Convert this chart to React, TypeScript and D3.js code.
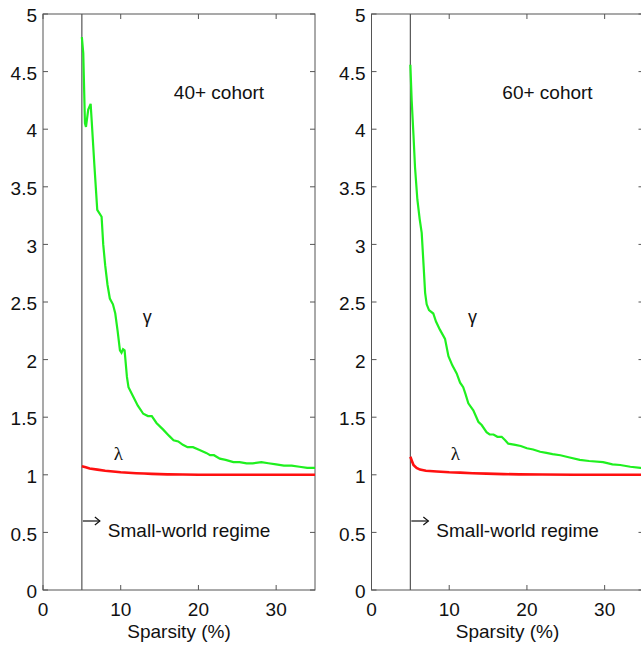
import * as d3 from 'd3';

// axis ticks
const xTicks = [0, 10, 20, 30];
const yTicks = [0, 0.5, 1, 1.5, 2, 2.5, 3, 3.5, 4, 4.5, 5];
const threshold = 5;

// 40+ cohort, [sparsity %, value]
const gamma40: [number, number][] = [
  [5.0, 4.8], [5.18, 4.66], [5.4, 4.05], [5.53, 4.02], [5.82, 4.17], [6.13, 4.22], [6.26, 4.08],
  [6.6, 3.7], [6.98, 3.3], [7.54, 3.24], [7.75, 3.0], [8.0, 2.82], [8.3, 2.65], [8.6, 2.53],
  [9.0, 2.48], [9.3, 2.4], [9.6, 2.25], [9.9, 2.08], [10.1, 2.06], [10.3, 2.09], [10.5, 2.08],
  [10.8, 1.85], [11.0, 1.76], [11.6, 1.68], [12.2, 1.6], [12.9, 1.53], [13.5, 1.51], [14.0, 1.51],
  [14.6, 1.45], [15.5, 1.39], [16.2, 1.34], [16.8, 1.3], [17.4, 1.29], [18.0, 1.26], [18.6, 1.24],
  [19.3, 1.24], [20.0, 1.22], [21.0, 1.19], [21.5, 1.17], [22.0, 1.17], [22.75, 1.14], [23.5, 1.13],
  [24.5, 1.11], [25.3, 1.11], [26.2, 1.1], [27.0, 1.1], [28.1, 1.11], [29.0, 1.1], [30.0, 1.09],
  [31.0, 1.08], [32.0, 1.08], [33.0, 1.07], [34.0, 1.06], [35.0, 1.06],
];
const lambda40: [number, number][] = [
  [5.0, 1.075], [5.5, 1.065], [6, 1.055], [7, 1.045], [8, 1.035], [9, 1.028], [10, 1.022],
  [11, 1.018], [12, 1.014], [13, 1.011], [14, 1.008], [15, 1.006], [16, 1.004], [18, 1.002],
  [20, 1.001], [25, 1.0], [30, 1.0], [35, 1.0],
];

// 60+ cohort
const gamma60: [number, number][] = [
  [5.0, 4.56], [5.17, 4.25], [5.4, 3.95], [5.6, 3.67], [5.9, 3.39], [6.2, 3.22], [6.46, 3.1],
  [6.7, 2.82], [6.9, 2.58], [7.1, 2.48], [7.4, 2.43], [7.95, 2.4], [8.3, 2.33], [8.8, 2.26],
  [9.46, 2.18], [9.9, 2.03], [10.4, 1.95], [10.96, 1.88], [11.4, 1.8], [11.8, 1.76], [12.1, 1.7],
  [12.46, 1.62], [13.1, 1.56], [13.75, 1.46], [14.2, 1.43], [14.8, 1.37], [15.2, 1.35], [15.7, 1.35],
  [16.2, 1.33], [16.75, 1.33], [17.2, 1.3], [17.6, 1.27], [18.5, 1.26], [19.2, 1.25], [20.0, 1.23],
  [20.8, 1.22], [21.7, 1.2], [22.5, 1.19], [23.3, 1.18], [24.3, 1.17], [25.5, 1.15], [26.8, 1.13],
  [28.0, 1.12], [29.8, 1.11], [31.0, 1.09], [32.0, 1.085], [33.3, 1.07], [34.6, 1.06], [35.0, 1.055],
];
const lambda60: [number, number][] = [
  [5.0, 1.157], [5.2, 1.12], [5.4, 1.085], [5.8, 1.06], [6.24, 1.045], [7, 1.035], [8.4, 1.028],
  [10, 1.022], [11.4, 1.019], [13, 1.014], [14.8, 1.01], [17, 1.006], [19, 1.004], [22, 1.002],
  [26, 1.001], [30, 1.0], [35, 1.0],
];

const FONT = '"Liberation Sans", Arial, sans-serif';
const AXIS = '#555';
const TOP = 14;
const BOTTOM = 590;
const PLOT_W = 272;

type PanelProps = {
  left: number;
  title: string;
  gamma: [number, number][];
  lambda: [number, number][];
  gammaLabel: number[];
  lambdaLabel: number[];
};

function Panel({ left, title, gamma, lambda, gammaLabel, lambdaLabel }: PanelProps) {
  const x = d3.scaleLinear().domain([0, 35]).range([left, left + PLOT_W]);
  const y = d3.scaleLinear().domain([0, 5]).range([BOTTOM, TOP]);
  const line = d3.line<[number, number]>().x(d => x(d[0])).y(d => y(d[1]));
  const right = x(35);
  const tl = 5;
  const xv = x(threshold);
  const arrowY = 521;

  return (
    <g>
      {/* frame */}
      <rect x={left} y={TOP} width={right - left} height={BOTTOM - TOP} fill="none" stroke={AXIS} strokeWidth={1} />
      <line x1={xv} x2={xv} y1={TOP} y2={BOTTOM} stroke={AXIS} strokeWidth={1.2} />

      {/* ticks */}
      {xTicks.map(t => (
        <g key={'x' + t}>
          <line x1={x(t)} x2={x(t)} y1={BOTTOM} y2={BOTTOM - tl} stroke={AXIS} />
          <line x1={x(t)} x2={x(t)} y1={TOP} y2={TOP + tl} stroke={AXIS} />
          <text x={x(t)} y={609} dy="0.35em" textAnchor="middle" fontSize={19} fontFamily={FONT} fill="#111">{t}</text>
        </g>
      ))}
      {yTicks.map(t => (
        <g key={'y' + t}>
          <line x1={left} x2={left + tl} y1={y(t)} y2={y(t)} stroke={AXIS} />
          <line x1={right} x2={right - tl} y1={y(t)} y2={y(t)} stroke={AXIS} />
          <text x={left - 6} y={y(t) + 1.5} dy="0.35em" textAnchor="end" fontSize={19} fontFamily={FONT} fill="#111">{t}</text>
        </g>
      ))}

      <text x={(left + right) / 2} y={631} dy="0.35em" textAnchor="middle" fontSize={19} fontFamily={FONT} fill="#111">Sparsity (%)</text>

      {/* curves */}
      <path d={line(lambda) ?? ''} fill="none" stroke="#ff1010" strokeWidth={2.6} />
      <path d={line(gamma) ?? ''} fill="none" stroke="#1ff01f" strokeWidth={2.2} />

      {/* annotations */}
      <text x={x(gammaLabel[0])} y={y(gammaLabel[1])} dy="0.35em" textAnchor="middle" fontSize={18} fontFamily={FONT} fill="#111">γ</text>
      <text x={x(lambdaLabel[0])} y={y(lambdaLabel[1])} dy="0.35em" textAnchor="middle" fontSize={19} fontFamily='"Liberation Serif", serif' fill="#111">λ</text>
      <text x={(left + right) / 2 + 40} y={92} dy="0.35em" textAnchor="middle" fontSize={19} fontFamily={FONT} fill="#111">{title}</text>

      <g stroke="#111" strokeWidth={1.2} fill="none">
        <line x1={xv + 1} x2={xv + 18} y1={arrowY} y2={arrowY} />
        <path d={`M${xv + 13},${arrowY - 4} L${xv + 18},${arrowY} L${xv + 13},${arrowY + 4}`} />
      </g>
      <text x={xv + 26} y={530} dy="0.35em" fontSize={19} fontFamily={FONT} fill="#111">Small-world regime</text>
    </g>
  );
}

export default function App() {
  return (
    <svg width={641} height={646} style={{ position: 'absolute', left: 0, top: 0, background: '#fff' }}>
      <rect width={641} height={646} fill="#fff" />
      <Panel left={43} title="40+ cohort" gamma={gamma40} lambda={lambda40} gammaLabel={[13.4, 2.37]} lambdaLabel={[9.7, 1.19]} />
      <Panel left={371.5} title="60+ cohort" gamma={gamma60} lambda={lambda60} gammaLabel={[13.0, 2.37]} lambdaLabel={[10.8, 1.19]} />
    </svg>
  );
}
